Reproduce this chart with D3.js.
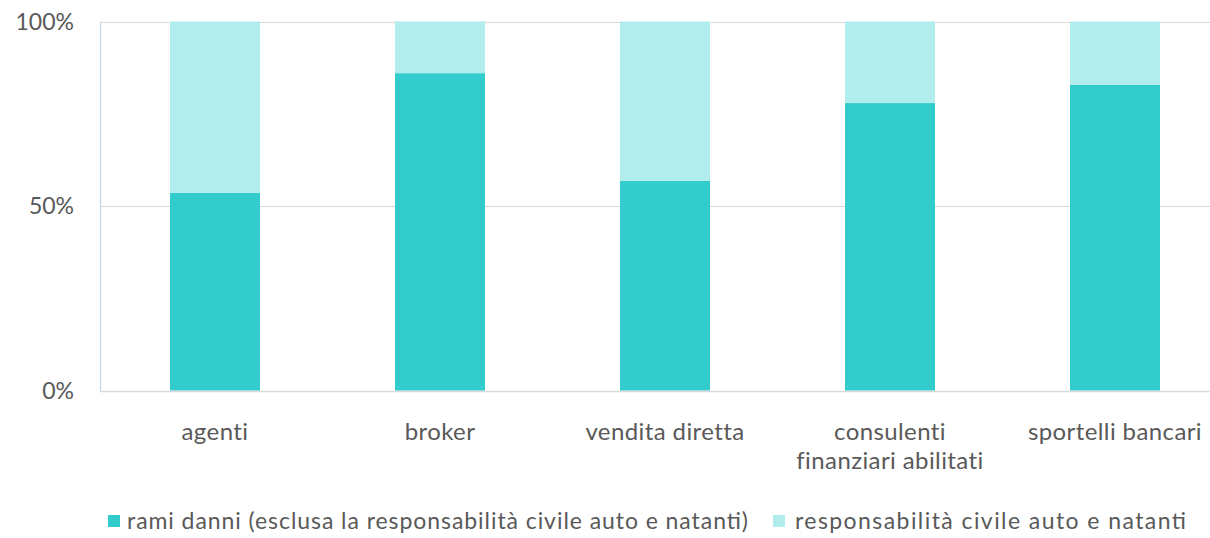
<!DOCTYPE html>
<html>
<head>
<meta charset="utf-8">
<script src="https://cdn.jsdelivr.net/npm/d3@7/dist/d3.min.js"></script>
<style>
  html, body { margin: 0; padding: 0; background: #fff; }
  svg { display: block; }
  text { font-family: Lato, "Open Sans", sans-serif; fill: #595959; }
</style>
</head>
<body>
<svg id="chart" width="1210" height="538"></svg>
<script>
const categories = ["agenti", "broker", "vendita diretta", "consulenti finanziari abilitati", "sportelli bancari"];
const categoryLines = [["agenti"], ["broker"], ["vendita diretta"], ["consulenti", "finanziari abilitati"], ["sportelli bancari"]];
const ramiDanni = [53.6, 86.0, 56.8, 77.9, 82.8];
const rcAuto = [46.4, 14.0, 43.2, 22.1, 17.2];
const seriesNames = ["rami danni (esclusa la responsabilità civile auto e natanti)", "responsabilità civile auto e natanti"];
const yTicks = [0, 50, 100];
const colors = ["#33CCCC", "#B2EDED"];

const svg = d3.select("#chart");
const x = d3.scaleBand().domain(categories).range([102.5, 1227.5]).paddingInner(0.6).paddingOuter(0.3);
const y = d3.scaleLinear().domain([0, 100]).range([390.5, 21.5]);

function fit(sel, w) {
  const len = sel.node().getComputedTextLength();
  if (w && len > 0) sel.attr("textLength", w).attr("lengthAdjust", "spacing");
}

// gridlines
svg.append("g").selectAll("line").data(yTicks).join("line")
  .attr("x1", 100).attr("x2", 1210)
  .attr("y1", d => Math.round(y(d)) + 0.5).attr("y2", d => Math.round(y(d)) + 0.5)
  .attr("stroke", "#d9d9d9").attr("stroke-width", d => d === 0 ? 1.5 : 1);

// left axis line
svg.append("line").attr("x1", 100.5).attr("x2", 100.5)
  .attr("y1", y(100)).attr("y2", y(0) + 1)
  .attr("stroke", "#c5d5e4").attr("stroke-width", 1.2);

// y tick labels
svg.append("g").selectAll("text").data(yTicks).join("text")
  .attr("x", 74).attr("y", d => y(d) + 8)
  .attr("text-anchor", "end")
  .attr("font-size", 23).text(d => d + "%");

// stacked bars
const rows = categories.map((c, i) => ({ cat: c, rami: ramiDanni[i], rca: rcAuto[i] }));
const stack = d3.stack().keys(["rami", "rca"])(rows);
svg.append("g").selectAll("g").data(stack).join("g")
  .attr("fill", (d, i) => colors[i])
  .selectAll("rect").data(d => d).join("rect")
  .attr("x", d => x(d.data.cat))
  .attr("width", x.bandwidth())
  .attr("y", d => y(d[1]))
  .attr("height", d => y(d[0]) - y(d[1]));

// category labels
const cg = svg.append("g");
categories.forEach((c, i) => {
  categoryLines[i].forEach((line, j) => {
    cg.append("text")
      .attr("x", x(c) + x.bandwidth() / 2)
      .attr("y", 440 + j * 29)
      .attr("text-anchor", "middle").attr("font-size", 24)
      .attr("letter-spacing", 0.4).text(line);
  });
});

// legend
const legendX = [108, 773];
const legendTextW = [621, 391];
const lg = svg.append("g").selectAll("g").data(seriesNames).join("g")
  .attr("transform", (d, i) => `translate(${legendX[i]},515)`);
lg.append("rect").attr("width", 12).attr("height", 12).attr("fill", (d, i) => colors[i]);
lg.append("text").attr("x", (d, i) => i === 0 ? 19 : 22).attr("y", 14).attr("font-size", 23)
  .text(d => d)
  .each(function(d, i) { fit(d3.select(this), legendTextW[i]); });
</script>
</body>
</html>
